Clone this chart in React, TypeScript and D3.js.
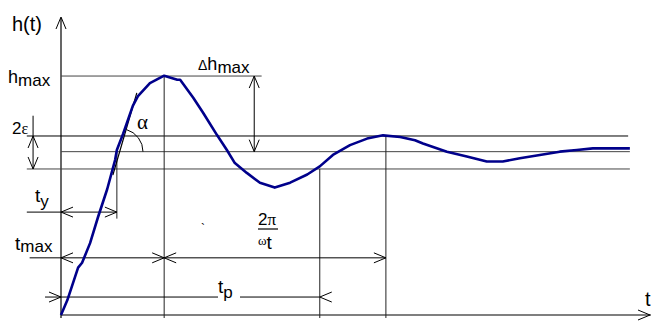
import React, { useEffect, useRef } from 'react';
import * as d3 from 'd3';

// step response h(t)
const tValues = [0, 0.11, 0.30, 0.37, 0.51, 0.65, 0.81, 0.95, 0.98, 1.09, 1.26, 1.35, 1.56, 1.81, 2.04, 2.09, 2.32, 2.49, 2.74, 2.91, 3.05, 3.26, 3.49, 3.75, 4.02, 4.32, 4.54, 4.77, 5.07, 5.37, 5.65, 5.95, 6.21, 6.35, 6.77, 7.12, 7.47, 7.75, 8.05, 8.40, 8.75, 9.05, 9.33, 9.98];
const hValues = [0, 0.09, 0.29, 0.32, 0.44, 0.60, 0.77, 0.95, 1.01, 1.11, 1.28, 1.34, 1.42, 1.465, 1.44, 1.44, 1.33, 1.24, 1.10, 1.01, 0.93, 0.87, 0.81, 0.78, 0.81, 0.86, 0.91, 0.98, 1.04, 1.08, 1.10, 1.09, 1.07, 1.05, 1.00, 0.97, 0.94, 0.94, 0.96, 0.98, 1.00, 1.01, 1.02, 1.02];

// levels
const hSteady = 1.0;
const hUpper = 1.096;
const hLower = 0.894;
const hMax = 1.463;

// times
const tY = 0.98;
const tMax = 1.81;
const tP = 4.54;
const tPeak2 = 5.70;
const tEnd = 10;

// tangent line end points [t, h]
const tangent = [[0.91, 0.857], [1.33, 1.36]];

const App = () => {
  const ref = useRef(null);

  useEffect(() => {
    d3.select(ref.current).selectAll('*').remove();
    const W = 651, H = 322;
    const svg = d3.select(ref.current)
      .append('svg')
      .attr('width', W)
      .attr('height', H)
      .style('position', 'absolute')
      .style('left', 0)
      .style('top', 0)
      .style('background', '#fff');

    const x = d3.scaleLinear().domain([0, tEnd]).range([61, 631]);
    const y = d3.scaleLinear().domain([0, 1.5]).range([315, 70]);

    const sans = 'Arial, "Liberation Sans", sans-serif';
    const serif = '"Liberation Serif", "DejaVu Serif", serif';

    const line = (x1, y1, x2, y2, color = '#000', w = 1) =>
      svg.append('line')
        .attr('x1', x1).attr('y1', y1).attr('x2', x2).attr('y2', y2)
        .attr('stroke', color).attr('stroke-width', w);

    // open arrow head, dir: 'l','r','u','d'
    const head = (tx, ty, dir) => {
      const L = 12, S = 5;
      let p;
      if (dir === 'l') p = [[tx + L, ty - S], [tx, ty], [tx + L, ty + S]];
      else if (dir === 'r') p = [[tx - L, ty - S], [tx, ty], [tx - L, ty + S]];
      else if (dir === 'u') p = [[tx - S, ty + L], [tx, ty], [tx + S, ty + L]];
      else p = [[tx - S, ty - L], [tx, ty], [tx + S, ty - L]];
      svg.append('path')
        .attr('d', d3.line()(p))
        .attr('fill', 'none')
        .attr('stroke', '#000')
        .attr('stroke-width', 1);
    };

    // axes
    line(x(0), y(0) + 3, x(0), 18, '#000', 1.2);
    head(x(0), 17, 'u');
    line(x(0), y(0), W, y(0), '#000', 1.2);
    head(W - 1, y(0), 'r');

    // horizontal levels
    line(x(0), y(hMax), x(3.52), y(hMax), '#444');
    line(x(-0.6), y(hUpper), x(9.95), y(hUpper), '#000');
    line(x(0), y(hSteady), x(9.98), y(hSteady), '#444');
    line(x(-0.6), y(hLower), x(9.98), y(hLower), '#444');

    // vertical markers
    line(x(tMax), y(hMax), x(tMax), y(0) + 3, '#222');
    line(x(tY), y(hSteady), x(tY), y(0.59), '#222');
    line(x(tP), y(hLower), x(tP), y(0) + 3, '#222');
    line(x(tPeak2), y(hUpper), x(tPeak2), y(0) + 3, '#222');

    // 2 epsilon arrow
    const xe = x(-0.49);
    line(xe, y(1.22), xe, y(hLower));
    head(xe, y(hUpper), 'u');
    head(xe, y(hLower), 'd');

    // delta h max arrow
    const xd = x(3.39);
    line(xd, y(hMax), xd, y(hSteady));
    head(xd, y(hMax), 'u');
    head(xd, y(hSteady), 'd');

    // t_y arrow
    const yTy = y(0.63);
    line(x(-0.6), yTy, x(tY), yTy);
    head(x(0), yTy, 'l');
    head(x(tY), yTy, 'r');

    // t_max and 2pi/omega arrow
    const yTm = y(0.35);
    line(x(-0.55), yTm, x(tPeak2), yTm);
    head(x(0), yTm, 'l');
    head(x(tMax), yTm, 'r');
    head(x(tMax), yTm, 'l');
    head(x(tPeak2), yTm, 'r');

    // t_p arrow
    const yTp = y(0.11);
    line(x(-0.28), yTp, 218, yTp);
    line(240, yTp, x(tP), yTp);
    head(x(0), yTp, 'r');
    head(x(tP), yTp, 'l');

    // tangent and angle
    svg.append('path')
      .attr('d', d3.line().x(d => x(d[0])).y(d => y(d[1]))(tangent))
      .attr('fill', 'none')
      .attr('stroke', '#000')
      .attr('stroke-width', 1.2);
    const cx = x(1.035), cy = y(hSteady), r = 23;
    const ang = Math.atan2(y(tangent[0][1]) - y(tangent[1][1]), x(tangent[1][0]) - x(tangent[0][0]));
    svg.append('path')
      .attr('d', `M${cx + r},${cy} A${r},${r} 0 0 0 ${cx + r * Math.cos(ang)},${cy - r * Math.sin(ang)}`)
      .attr('fill', 'none')
      .attr('stroke', '#000')
      .attr('stroke-width', 1);

    // response curve
    const pts = tValues.map((t, i) => [t, hValues[i]]);
    svg.append('path')
      .attr('d', d3.line().x(d => x(d[0])).y(d => y(d[1]))(pts))
      .attr('fill', 'none')
      .attr('stroke', '#00008B')
      .attr('stroke-width', 2.6)
      .attr('stroke-linejoin', 'round');

    // labels
    const txt = (tx, ty, size, family = sans) =>
      svg.append('text').attr('x', tx).attr('y', ty)
        .attr('font-size', size).attr('font-family', family).attr('fill', '#000');

    txt(12, 31, 20).text('h(t)');

    const hm = txt(8, 83, 18);
    hm.append('tspan').text('h');
    hm.append('tspan').attr('font-size', 17).attr('dy', 3).text('max');

    const eps = txt(12, 134, 17);
    eps.append('tspan').text('2');
    eps.append('tspan').attr('font-family', serif).attr('font-size', 16).text('ε');

    txt(137, 129, 21, serif).text('α');

    const ty = txt(35, 202, 19);
    ty.append('tspan').text('t');
    ty.append('tspan').attr('font-size', 17).attr('dy', 5).text('y');

    const tm = txt(15, 250, 19);
    tm.append('tspan').text('t');
    tm.append('tspan').attr('font-size', 17).attr('dy', 2).text('max');

    const dh = txt(198, 70, 18);
    dh.append('tspan').attr('font-size', 14).text('Δ');
    dh.append('tspan').text('h');
    dh.append('tspan').attr('font-size', 17).attr('dy', 3).text('max');

    const tw = txt(258, 225, 17);
    tw.append('tspan').text('2');
    tw.append('tspan').attr('font-family', serif).text('π');
    line(258, 229, 278, 229, '#000', 1.2);
    const om = txt(258, 245, 13, serif);
    om.append('tspan').text('ω');
    om.append('tspan').attr('font-family', sans).attr('font-size', 19).attr('dy', 4).text('t');

    const tp = txt(218, 293, 19);
    tp.append('tspan').text('t');
    tp.append('tspan').attr('font-size', 17).attr('dy', 5).text('p');

    txt(201, 233, 12).text('`');
    txt(645, 306, 20).text('t');
  }, []);

  return <div ref={ref}></div>;
};

export default App;
